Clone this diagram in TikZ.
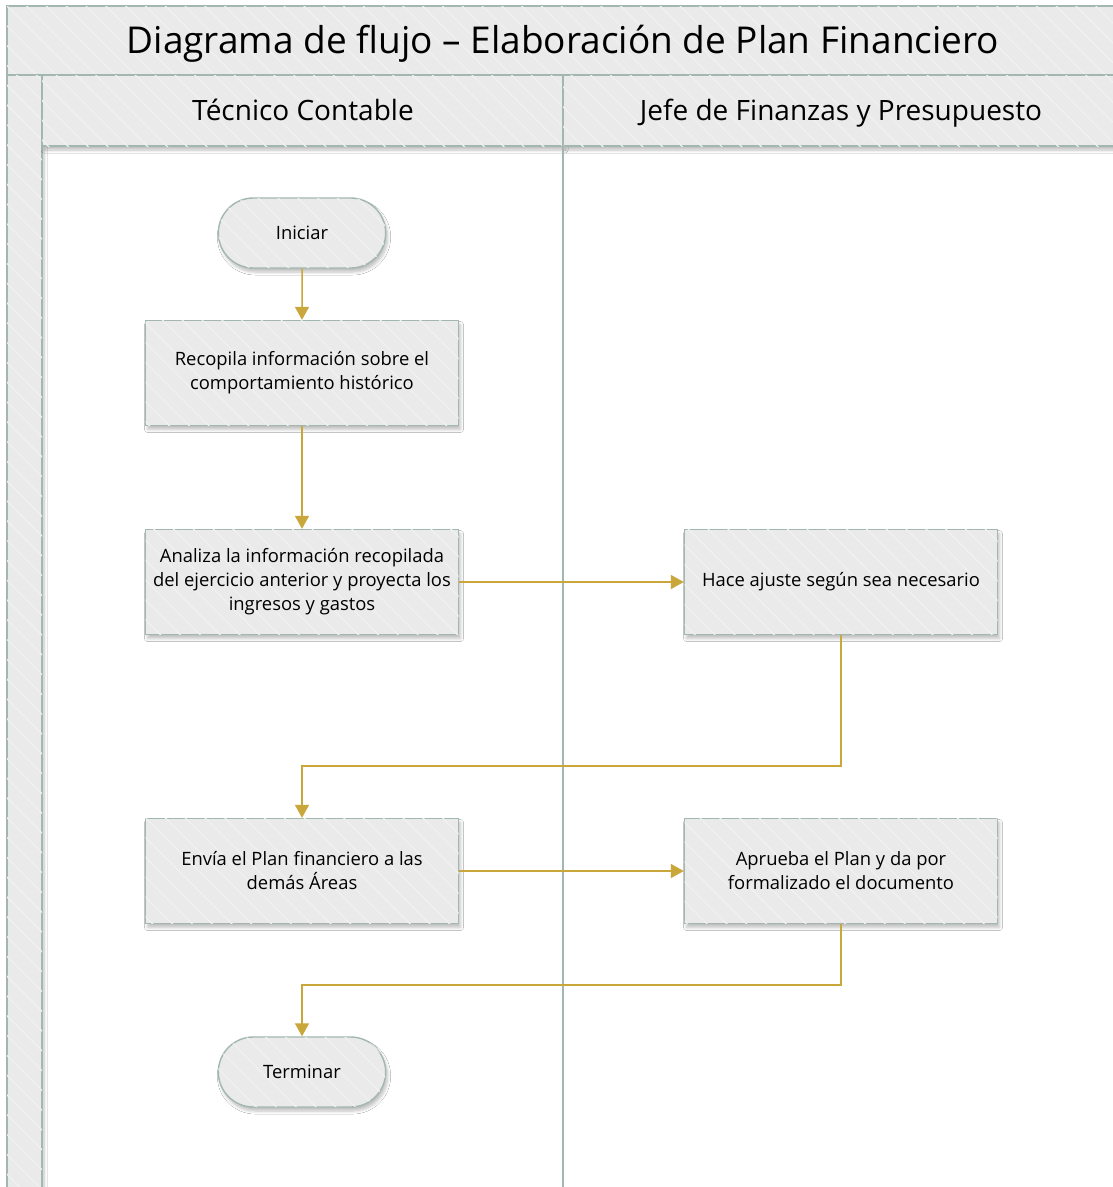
\documentclass[tikz,border=0pt]{standalone}
\usepackage{fontspec}
\setmainfont{Open Sans}
\usetikzlibrary{arrows.meta,patterns.meta,shadows.blur,shapes.misc}
\definecolor{laneline}{HTML}{A2B8AF}
\definecolor{shapefill}{HTML}{EAEAEA}
\definecolor{hatchline}{HTML}{F1F1F1}
\definecolor{flow}{HTML}{C9A73A}
\tikzset{
  hatch/.style={fill=shapefill,
    postaction={pattern={Lines[angle=-45,distance=14pt,line width=1.2pt]},pattern color=hatchline}},
  band/.style={hatch,draw=laneline,line width=1.6pt},
  shade/.style={blur shadow={shadow xshift=2pt,shadow yshift=-4pt,shadow blur radius=3pt,
    shadow blur steps=6,shadow opacity=25}},
  taskbox/.style={hatch,draw=laneline,line width=1.4pt,shade,minimum width=313pt,minimum height=105pt,
    align=center,font=\fontsize{18.4}{24}\selectfont,inner sep=2pt},
  terminal/.style={rounded rectangle,hatch,draw=laneline,line width=1.4pt,shade,minimum width=174pt,
    minimum height=70pt,font=\fontsize{18.4}{24}\selectfont},
  headtext/.style={anchor=base,inner sep=0pt},
  flowarrow/.style={draw=flow,line width=1.5pt,-{Triangle[width=14pt,length=13pt]}},
}
\begin{document}
\begin{tikzpicture}[x=1pt,y=-1pt]
\useasboundingbox (0,0) rectangle (1113,1187);
\clip (0,0) rectangle (1113,1187);
\fill[white] (0,0) rectangle (1113,1187);
% pool title and left band
\path[band] (7,6) rectangle (1130,75);
\node[headtext,font=\fontsize{37}{42}\selectfont] (title) at (563,53)
  {Diagrama de flujo – Elaboración de Plan Financiero};
\path[band,shade] (7,75) rectangle (42,1200);
% lane headers
\path[band,shade] (42,75) rectangle (563,146);
\path[band,shade] (563,75) rectangle (1130,146);
\node[headtext,font=\fontsize{28}{32}\selectfont] (laneA) at (303,120) {Técnico Contable};
\node[headtext,font=\fontsize{28}{32}\selectfont] (laneB) at (841,120) {Jefe de Finanzas y Presupuesto};
% lane separator
\draw[laneline,line width=1.6pt] (563,146) -- (563,1200);
% flow shapes
\node[terminal] (ini) at (302,233) {Iniciar};
\node[taskbox] (rec) at (302,373) {Recopila información sobre el\\comportamiento histórico};
\node[taskbox] (ana) at (302,582) {Analiza la información recopilada\\del ejercicio anterior y proyecta los\\ingresos y gastos};
\node[taskbox] (hace) at (841,582) {Hace ajuste según sea necesario};
\node[taskbox] (env) at (302,871) {Envía el Plan financiero a las\\demás Áreas};
\node[taskbox] (apr) at (841,871) {Aprueba el Plan y da por\\formalizado el documento};
\node[terminal] (term) at (302,1072) {Terminar};
% connectors
\draw[flowarrow] (ini) -- (rec);
\draw[flowarrow] (rec) -- (ana);
\draw[flowarrow] (ana) -- (hace);
\draw[flowarrow] (hace.south) -- ++(0,131) -| (env.north);
\draw[flowarrow] (env) -- (apr);
\draw[flowarrow] (apr.south) -- ++(0,61) -| (term.north);
\end{tikzpicture}
\end{document}
